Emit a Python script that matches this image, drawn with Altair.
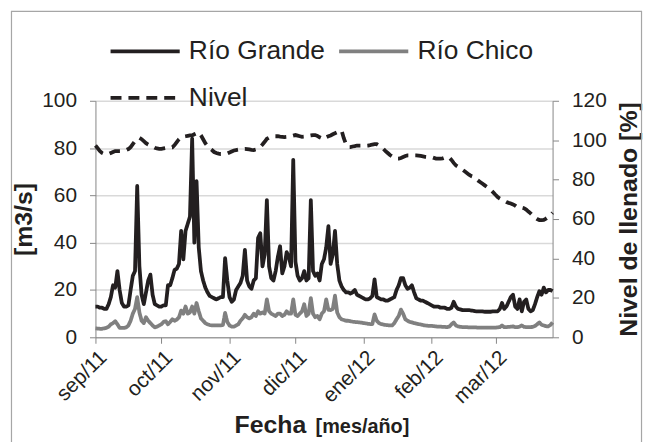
import altair as alt
import pandas as pd

# ---------------- data ----------------
fechas = pd.date_range("2011-09-01", "2012-03-27", freq="D")

rio_grande = [
    13, 13, 12.5, 12.5, 12, 12, 14, 17, 22, 21,
    28, 20, 14.5, 13, 13, 13.5, 20, 26, 28, 64,
    30, 18, 14, 19, 24, 26.5, 18, 14, 13.5, 13,
    13, 13.5, 13.5, 22, 22, 25, 28.5, 29, 31, 45,
    33, 45, 48, 51, 84, 40, 66, 38, 28, 24,
    21, 19, 17.5, 17, 16.5, 16, 16.5, 17, 17, 33.5,
    24, 17, 15, 16, 20, 21.5, 23, 26, 37, 24,
    21.5, 20.5, 24, 25, 42, 44, 30, 35, 58, 30,
    25, 24, 28, 34, 38.5, 27, 30, 36, 34, 30,
    75, 32, 26, 24, 25, 28, 24, 25, 58, 28,
    26, 27, 24, 31, 33, 38, 47, 31, 35, 45,
    31, 24, 21.5, 20, 19, 19, 18.5, 19, 20, 18,
    17.5, 17, 16.5, 16, 16, 16.5, 17.5, 24.5, 17, 16.5,
    16, 16, 15.5, 15.5, 16, 16.5, 17, 20, 22, 25,
    25, 22, 20.5, 21, 22, 19, 16.5, 16, 15.5, 15.5,
    15, 14.5, 14, 13.5, 13, 13, 13, 12.5, 12.5, 12.5,
    12, 12, 12.5, 15, 13, 12, 11.8, 11.5, 11.5, 11.5,
    11.5, 11.3, 11.2, 11, 11, 11, 11, 10.8, 10.8, 10.8,
    10.8, 11, 11, 11, 12, 14.5, 12, 13, 15, 17,
    18, 13, 12, 16, 11, 15, 16, 12, 11, 11.5,
    14, 17, 19.5, 18, 21, 19, 20, 20, 19.5,
]

rio_chico = [
    3.8, 3.7, 3.6, 3.6, 3.8, 4, 4.5, 5.5, 6, 6.8,
    5.5, 4, 4, 4, 4.2, 5, 7, 10, 12, 17,
    10.5, 7, 6, 8.5, 7, 6, 5, 4.2, 4.5, 5,
    5.5, 6.5, 6.8, 5.5, 6.5, 7.6, 7, 7.5, 8.4, 11.3,
    10, 13, 10, 10.5, 13, 10, 14.5, 11, 8, 7,
    6, 5.5, 5.2, 5, 5, 5, 5, 5, 5.2, 10.3,
    6.5, 5, 4.5, 4.5, 5, 5.5, 7, 8, 9.5, 8.5,
    8, 8.5, 10, 9, 11, 10, 10.5, 10, 16, 11,
    10, 9.5, 9, 10, 10, 9, 9.5, 11, 10, 10,
    16, 9.5, 9, 10, 11, 14, 9, 10, 16.6, 10,
    8.5, 9, 7.6, 10, 11, 16, 11.6, 11.5, 12, 17.6,
    10.5, 8.5, 7.6, 7.3, 7, 7, 6.8, 6.6, 6.5, 6.4,
    6.3, 6.2, 6, 5.9, 5.7, 5.6, 5.6, 9.7, 7, 6,
    5.6, 5.4, 5.2, 5.1, 5, 5, 6, 7.6, 9, 11.7,
    10, 7.6, 7, 6.5, 6.3, 6, 5.8, 5.6, 5.4, 5.2,
    5, 4.9, 4.8, 4.8, 4.7, 4.6, 4.5, 4.5, 4.4, 4.4,
    4.3, 4.5, 5.5, 6.3, 5, 4.6, 4.4, 4.3, 4.3, 4.3,
    4.2, 4.2, 4.2, 4.2, 4.1, 4.1, 4.1, 4.1, 4.1, 4.1,
    4.1, 4.1, 4.1, 4.2, 4.3, 5, 4.3, 4.3, 4.4, 4.5,
    4.6, 4.3, 4.3, 4.5, 5, 4.4, 4.3, 4.3, 4.3, 4.4,
    4.8, 5.5, 6.3, 5.3, 5, 4.7, 4.6, 5.2, 6.3,
]

nivel = [
    97.3, 96, 94.5, 93.5, 93, 92.8, 93, 93.5, 94, 94.5,
    94.5, 94.5, 94.5, 94.8, 95, 95.5, 96.5, 98, 99.5, 100.5,
    101.2, 100.5, 99.5, 98.5, 97.8, 97.3, 96.8, 96.2, 95.8, 95.6,
    95.6, 95.8, 96, 96.2, 96.4, 96.4, 97.5, 99, 100.5, 101.5,
    101.8, 102, 102.2, 102.4, 102.4, 103, 103.5, 104, 102.5, 100.5,
    98.5, 97, 95.8, 95, 94, 93.5, 93.2, 93, 93, 93,
    93.3, 93.8, 94.3, 94.8, 95, 95.2, 95.4, 95.5, 95.6, 95.5,
    95.3, 95.1, 95, 95.3, 95.8, 96.6, 97.8, 99.2, 100.7, 101.3,
    101.7, 102, 102, 102, 101.8, 101.7, 101.6, 101.7, 101.7, 102,
    102.3, 102.6, 102.3, 102, 101.7, 101.8, 102, 102.2, 102.4, 102.6,
    102.6, 102.2, 101.5, 101, 100.5, 101.5, 102, 102.4, 103, 103.5,
    104, 104.5, 104.9, 101, 98, 96.5, 96.5, 96.8, 97, 97.3,
    97.3, 97.3, 97.2, 97.2, 97.3, 97.5, 97.8, 98, 98, 97.3,
    96.5, 95.6, 94.5, 93.5, 92.5, 91.8, 91.2, 90.6, 90.6, 91,
    91.5, 92, 92.3, 92.3, 92.3, 92.3, 92.3, 92.2, 92, 91.8,
    91.6, 91.5, 91.5, 91.4, 91, 90.7, 90.6, 90.6, 90.8, 91.2,
    91.5, 91.2, 90, 88.5, 87.2, 86.5, 85.7, 85, 84.2, 83.4,
    82.5, 81.8, 81.4, 80.5, 79.6, 78.8, 78, 77.2, 76.4, 75.6,
    74.6, 73.5, 72.3, 71.2, 70.4, 69.8, 69.2, 68.6, 68.2, 67.9,
    67.4, 66.8, 66, 65.8, 65.8, 65.5, 64.8, 63.8, 62.9, 61.8,
    60.8, 60, 59.5, 59.5, 59.6, 60.2, 61, 62, 63.2,
]

series = ["Río Grande", "Río Chico", "Nivel"]
inicio_mes = ["2011-09-01", "2011-10-01", "2011-11-01", "2011-12-01",
              "2012-01-01", "2012-02-01", "2012-03-01"]
meses = ["sep/11", "oct/11", "nov/11", "dic/11", "ene/12", "feb/12", "mar/12"]

# ---------------- tables ----------------
dia = [(f - fechas[0]).days for f in fechas]
tick_vals = [(pd.Timestamp(m) - fechas[0]).days for m in inicio_mes]
label_expr = " : ".join(f"datum.value == {v} ? '{l}'" for v, l in zip(tick_vals, meses)) + " : ''"

caudal = pd.concat([
    pd.DataFrame({"dia": dia, "valor": rio_grande, "serie": series[0]}),
    pd.DataFrame({"dia": dia, "valor": rio_chico, "serie": series[1]}),
])
niv = pd.DataFrame({"dia": dia, "valor": nivel, "serie": series[2]})

FONT = "Liberation Sans"
TXT = "#231f20"
AX = "#868686"

legend = alt.Legend(
    orient="none", legendX=24, legendY=-76, direction="horizontal", columns=2,
    title=None, symbolType="M-1.45,0H1.45", symbolSize=2304,
    labelFont=FONT, labelFontSize=26.5, labelColor=TXT, labelOffset=18,
    columnPadding=6, rowPadding=7, padding=0, labelLimit=400,
)
color = alt.Color("serie:N", scale=alt.Scale(domain=series, range=[TXT, "#808080", TXT]), legend=legend)
dash = alt.StrokeDash("serie:N", scale=alt.Scale(domain=series, range=[[1, 0], [1, 0], [11, 7]]), legend=legend)
width = alt.StrokeWidth("serie:N", scale=alt.Scale(domain=series, range=[3.8, 3.8, 2.2]), legend=legend)

xenc = alt.X(
    "dia:Q",
    scale=alt.Scale(domain=[0, 208], nice=False, zero=False),
    axis=alt.Axis(
        values=tick_vals, labelExpr=label_expr, labelAngle=-45, grid=False,
        domainColor=AX, tickColor=AX, tickSize=6, labelPadding=3,
        labelFont=FONT, labelFontSize=21, labelColor=TXT,
        title="Fecha", titleFont=FONT, titleFontSize=25, titleFontWeight="bold",
        titleColor=TXT, titleX=139.5, titleY=96, titleAlign="left",
        titleBaseline="alphabetic",
    ),
)

flows = alt.Chart(caudal).mark_line(strokeJoin="round").encode(
    x=xenc,
    y=alt.Y(
        "valor:Q",
        scale=alt.Scale(domain=[0, 100], nice=False),
        axis=alt.Axis(
            values=[0, 20, 40, 60, 80, 100], grid=True, gridColor="#d9d9d9", gridWidth=1.5,
            domainColor=AX, tickColor=AX, tickSize=6, labelPadding=13,
            labelFont=FONT, labelFontSize=21, labelColor=TXT,
            title="[m3/s]", titleFont=FONT, titleFontSize=25, titleFontWeight="bold",
            titleColor=TXT, titlePadding=5,
        ),
    ),
    color=color, strokeDash=dash, strokeWidth=width,
    detail="serie:N",
)

level = alt.Chart(niv).mark_line().encode(
    x=xenc,
    y=alt.Y(
        "valor:Q",
        scale=alt.Scale(domain=[0, 120], nice=False),
        axis=alt.Axis(
            orient="right", values=[0, 20, 40, 60, 80, 100, 120], grid=False,
            domainColor=AX, tickColor=AX, tickSize=6, labelPadding=13,
            labelFont=FONT, labelFontSize=21, labelColor=TXT,
            title="Nivel de llenado [%]", titleFont=FONT, titleFontSize=25,
            titleFontWeight="bold", titleColor=TXT, titlePadding=10, titleAngle=270,
            titleBaseline="top",
        ),
    ),
    color=color, strokeDash=dash, strokeWidth=width,
)

one = pd.DataFrame({"t": ["[mes/año]"]})
unidad = alt.Chart(one).mark_text(
    align="left", baseline="alphabetic", font=FONT, fontSize=20, fontWeight="bold", color=TXT
).encode(x=alt.value(221.5), y=alt.value(334), text="t:N")

marco = alt.Chart(one).mark_rect(fillOpacity=0, stroke="#a6a6a6", strokeWidth=1.2).encode(
    x=alt.value(-84.5), x2=alt.value(549.5), y=alt.value(-90), y2=alt.value(400)
)

chart = alt.layer(marco, flows, level, unidad).resolve_scale(y="independent").properties(
    width=460, height=238,
    autosize=alt.AutoSizeParams(type="none"),
    padding={"left": 88, "top": 92, "right": 92, "bottom": 104},
    background="white",
).configure_view(stroke=None)

chart.save("out.html", embed_options={"renderer": "svg", "actions": False})
